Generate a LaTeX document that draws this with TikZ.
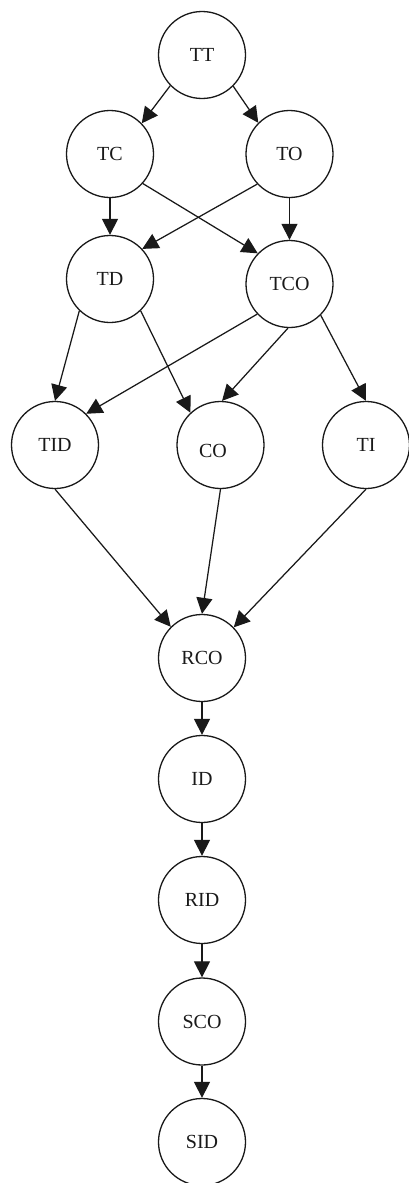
\documentclass[tikz,border=0pt]{standalone}
\usepackage{fontspec}
\setmainfont{Liberation Serif}
\usetikzlibrary{arrows.meta}
\begin{document}
\begin{tikzpicture}[x=1pt,y=-1pt,
  gnode/.style={circle,draw=black!90,line width=1.3pt,minimum size=87pt,inner sep=0pt,
    font=\fontsize{20}{24}\selectfont,text=black!90},
  gtext/.style={font=\fontsize{20}{24}\selectfont,text=black!90,inner sep=0pt},
  gedge/.style={line width=1.25pt,draw=black!90,-{Triangle[length=16pt,width=16pt]}}]
\useasboundingbox (0,0) rectangle (408,1183);
% nodes
\node[gnode] (TT)  at (202,55)    {TT};
\node[gnode] (TC)  at (110,154)   {TC};
\node[gnode] (TO)  at (289.5,154) {TO};
\node[gnode] (TD)  at (110,279)   {TD};
\node[gnode] (TCO) at (289.5,284) {TCO};
\node[gnode] (TID) at (55,445)    {TID};
\node[gnode,label={[gtext,xshift=-7.5pt,yshift=-6pt]center:CO}] (CO) at (220.5,445) {};
\node[gnode] (TI)  at (366,445)   {TI};
\node[gnode] (RCO) at (202,658)   {RCO};
\node[gnode] (ID)  at (202,779)   {ID};
\node[gnode] (RID) at (202,900)   {RID};
\node[gnode] (SCO) at (202,1021.5) {SCO};
\node[gnode] (SID) at (202,1142)  {SID};
% edges
\draw[gedge] (TT.224.7)  -- (TC.44.6);
\draw[gedge] (TT.315)    -- (TO.135);
\draw[gedge] (TC.270)    -- (TD.90);
\draw[gedge] (TC.-42.7)  -- (TCO.136.4);
\draw[gedge] (TO.223.3)  -- (TD.43.1);
\draw[gedge] (TO.270)    -- (TCO.90);
\draw[gedge] (TD.226.3)  -- (TID.90);
\draw[gedge] (TD.314.7)  -- (CO.133.9);
\draw[gedge] (TCO.223.9) -- (TID.45.6);
\draw[gedge] (TCO.268.4) -- (CO.88.4);
\draw[gedge] (TCO.315.2) -- (TI.90);
\draw[gedge] (TID.270)   -- (RCO.135.6);
\draw[gedge] (CO.270)    -- (RCO.90);
\draw[gedge] (TI.270)    -- (RCO.44.4);
\draw[gedge] (RCO.270)   -- (ID.90);
\draw[gedge] (ID.270)    -- (RID.90);
\draw[gedge] (RID.270)   -- (SCO.90);
\draw[gedge] (SCO.270)   -- (SID.90);
\end{tikzpicture}
\end{document}
